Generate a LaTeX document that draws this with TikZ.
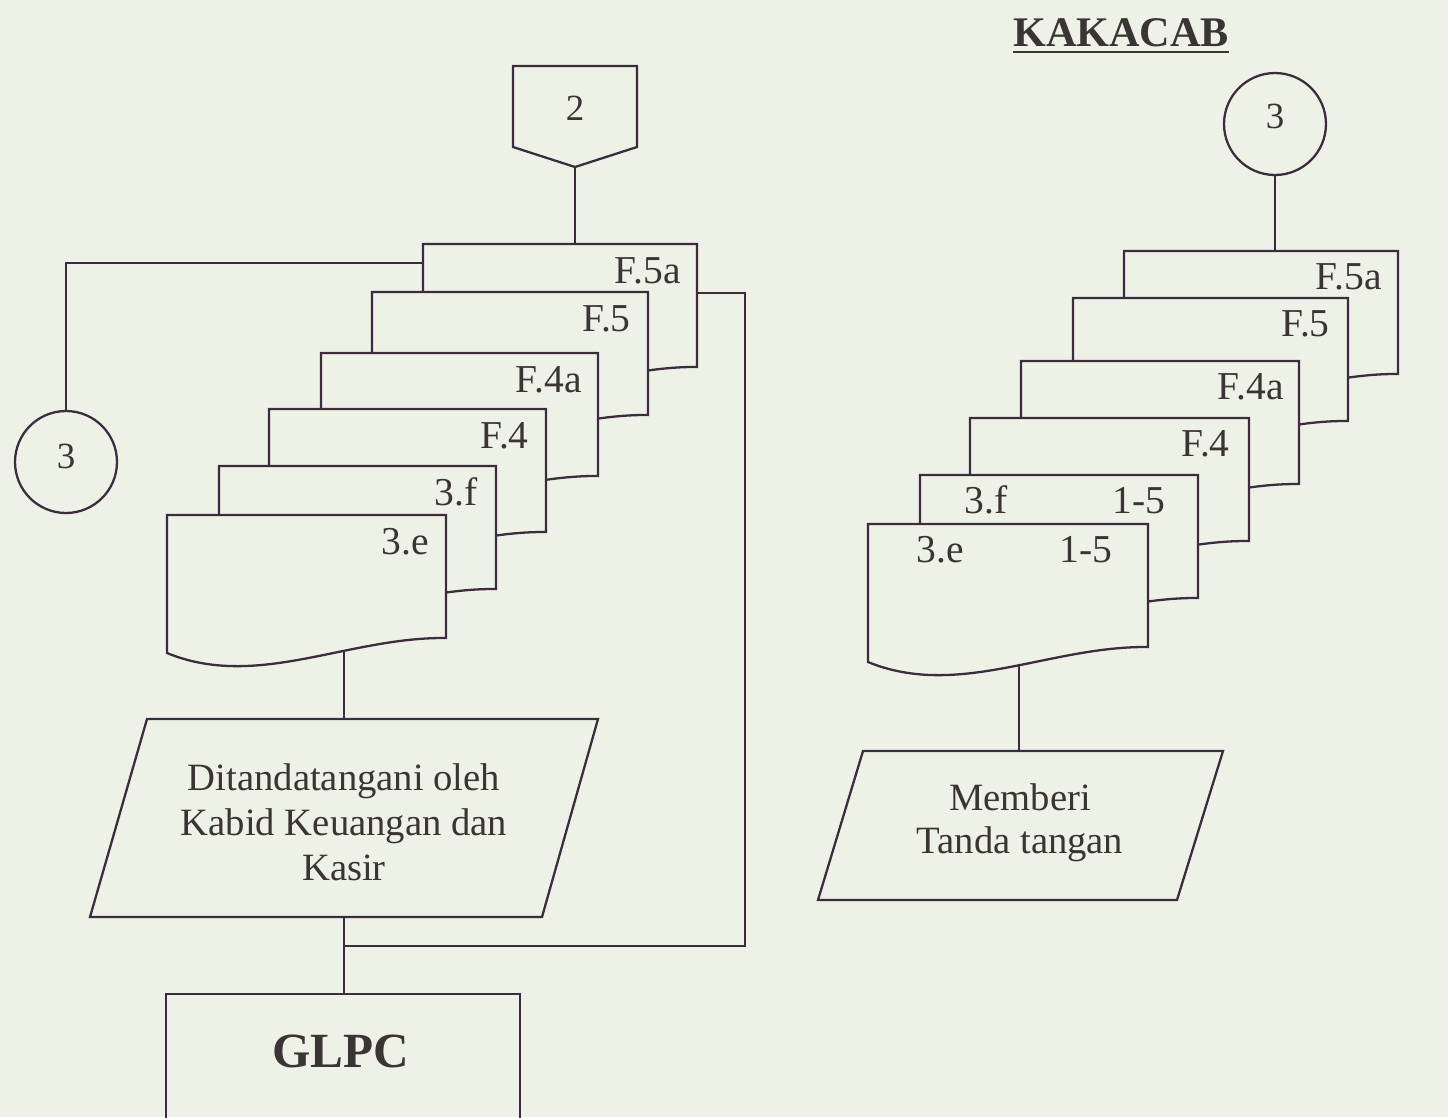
\documentclass[tikz,border=0pt]{standalone}
\usepackage{fontspec}
\setmainfont{Liberation Serif}
\usetikzlibrary{calc}
\definecolor{bg}{HTML}{EEF1E5}
\definecolor{ink}{HTML}{3D2C40}
\definecolor{txt}{HTML}{3A3434}
\tikzset{
  ln/.style={draw=ink,line width=1.3pt},
  docbox/.style={ln,fill=bg,line join=miter},
  lbl/.style={text=txt,inner sep=0pt,font=\fontsize{22.5}{26}\selectfont},
  numlbl/.style={text=txt,inner sep=0pt,font=\fontsize{21}{25}\selectfont},
  conncirc/.style={ln,fill=bg,circle,minimum size=2.04cm,inner sep=0pt},
}
\newcommand\docshape[4]{%
  \begin{scope}[shift={(#2,#3)}]
    \draw[docbox] (0,0) coordinate (#1-nw) -- (#4,0) coordinate (#1-ne)
      -- (#4,123) coordinate (#1-se)
      .. controls ({0.645*#4},122) and ({0.323*#4},175) .. (0,138) coordinate (#1-sw) -- cycle;
  \end{scope}}
\begin{document}
\begin{tikzpicture}[x=0.02cm,y=-0.02cm]
\fill[bg] (0,0) rectangle (1448,1117);
\useasboundingbox (0,0) rectangle (1448,1117);

% parallelogram anchor points
\coordinate (pLtop) at (344,719);
\coordinate (pLbot) at (344,917);
\coordinate (pRtop) at (1019,751);
\coordinate (LeIn) at (344,640);
\coordinate (ReIn) at (1019,650);

% stems hidden under the documents
\draw[ln] (pLtop) -- (LeIn);
\draw[ln] (pRtop) -- (ReIn);

% left stack
\docshape{LF5a}{423}{244}{274}
\docshape{LF5}{372}{292}{276}
\docshape{LF4a}{321}{353}{277}
\docshape{LF4}{269}{409}{277}
\docshape{L3f}{219}{466}{277}
\docshape{L3e}{167}{515}{279}
\node[lbl,anchor=base east] (tLF5a) at ($(LF5a-ne)+(-16,39)$) {F.5a};
\node[lbl,anchor=base east] (tLF5) at ($(LF5-ne)+(-17,39)$) {F.5};
\node[lbl,anchor=base east] (tLF4a) at ($(LF4a-ne)+(-16,39)$) {F.4a};
\node[lbl,anchor=base east] (tLF4) at ($(LF4-ne)+(-17,39)$) {F.4};
\node[lbl,anchor=base east] (tL3f) at ($(L3f-ne)+(-18,39)$) {3.f};
\node[lbl,anchor=base east] (tL3e) at ($(L3e-ne)+(-17,39)$) {3.e};

% right stack
\docshape{RF5a}{1124}{251}{274}
\docshape{RF5}{1073}{298}{275}
\docshape{RF4a}{1021}{361}{278}
\docshape{RF4}{970}{418}{279}
\docshape{R3f}{920}{475}{278}
\docshape{R3e}{868}{524}{280}
\node[lbl,anchor=base east] (tRF5a) at ($(RF5a-ne)+(-16,38)$) {F.5a};
\node[lbl,anchor=base east] (tRF5) at ($(RF5-ne)+(-18,38)$) {F.5};
\node[lbl,anchor=base east] (tRF4a) at ($(RF4a-ne)+(-15,38)$) {F.4a};
\node[lbl,anchor=base east] (tRF4) at ($(RF4-ne)+(-19,38)$) {F.4};
\node[lbl,anchor=base west] (tR3f) at ($(R3f-nw)+(44,38)$) {3.f};
\node[lbl,anchor=base east] (tR3fn) at ($(R3f-ne)+(-32,38)$) {1-5};
\node[lbl,anchor=base west] (tR3e) at ($(R3e-nw)+(48,38)$) {3.e};
\node[lbl,anchor=base east] (tR3en) at ($(R3e-ne)+(-35,38)$) {1-5};

% off-page connector 2
\draw[ln,fill=bg] (513,66) coordinate (p2nw) -- (637,66) -- (637,147)
  -- (575,167) coordinate (p2tip) -- (513,147) -- cycle;
\node[numlbl,anchor=base] (p2lbl) at (575,120) {2};
\draw[ln] (p2tip) -- (p2tip |- LF5a-nw);

% left on-page connector 3
\node[conncirc] (c3L) at (66,462) {};
\node[numlbl] (c3Lt) at (66,456) {3};
\draw[ln] (c3L.north) |- ($(LF5a-nw)+(0,19)$);

% left parallelogram
\draw[ln,fill=bg] (147,719) -- (598,719) -- (542,917) -- (90,917) -- cycle;
\node[lbl,align=center,font=\fontsize{22}{25.6}\selectfont] (pLtext) at (344,822)
  {Ditandatangani oleh\\Kabid Keuangan dan\\Kasir};

% GLPC box
\node[ln,minimum width=7.08cm,minimum height=2.64cm,anchor=north west,inner sep=0pt] (glpc) at (165,993) {};
\node[text=txt,inner sep=0pt,font=\bfseries\fontsize{28}{32}\selectfont,anchor=base] (glpct) at (341,1067) {GLPC};
\draw[ln] (pLbot) -- (pLbot |- glpc.north);
\coordinate (jn) at (344,946);
\coordinate (loopc) at (745,293);
\draw[ln] (jn) -| (loopc) -- (LF5a-ne |- loopc);

% right side
\node[text=txt,inner sep=0pt,font=\bfseries\fontsize{24}{28}\selectfont,anchor=base] (title) at (1121,46) {KAKACAB};
\draw[draw=txt,line width=1.6pt] ($(title.base west)+(0,6)$) -- ($(title.base east)+(0,6)$);
\node[conncirc] (c3R) at (1275,124) {};
\node[numlbl] (c3Rt) at (1275,116) {3};
\draw[ln] (c3R.south) -- (c3R.south |- RF5a-nw);

\draw[ln,fill=bg] (863,751) -- (1223,751) -- (1177,900) -- (818,900) -- cycle;
\node[lbl,align=center,font=\fontsize{22}{24.5}\selectfont] (pRtext) at (1020,823)
  {Memberi\\Tanda tangan};
\end{tikzpicture}
\end{document}
